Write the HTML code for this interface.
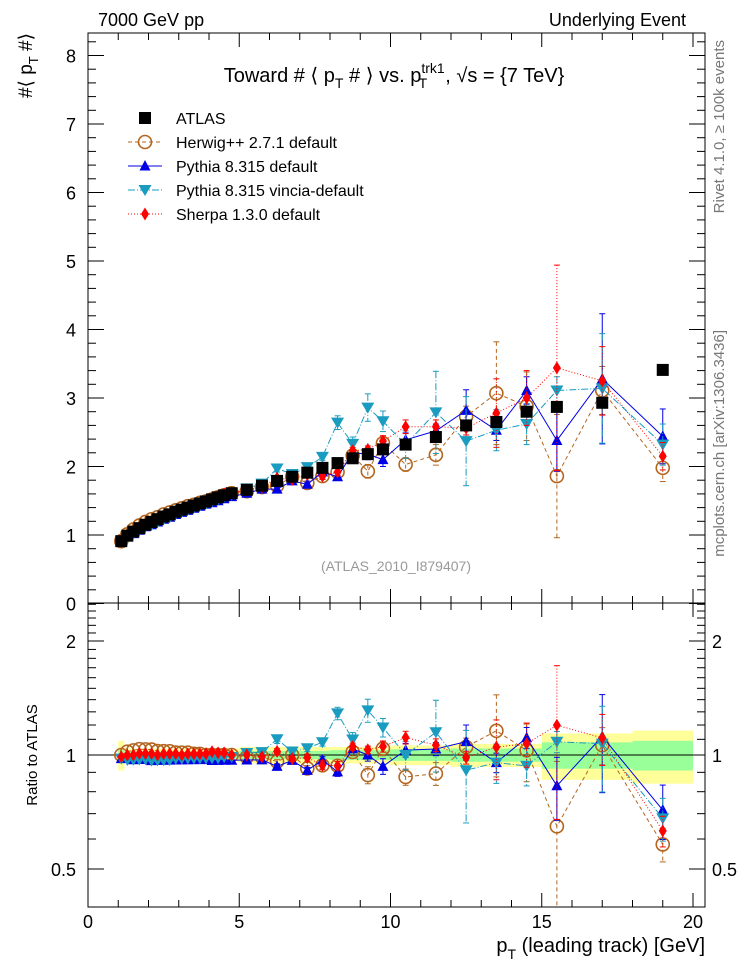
<!DOCTYPE html>
<html><head><meta charset="utf-8"><style>
body{margin:0;background:#fff;}
svg{display:block;font-family:"Liberation Sans",sans-serif;}
</style></head><body>
<svg id="c" width="746" height="972" viewBox="0 0 746 972"></svg>
<script>
const xs=[1.1,1.3,1.5,1.7,1.9,2.1,2.3,2.5,2.7,2.9,3.1,3.3,3.5,3.7,3.9,4.1,4.3,4.5,4.75,5.25,5.75,6.25,6.75,7.25,7.75,8.25,8.75,9.25,9.75,10.5,11.5,12.5,13.5,14.5,15.5,17,19];
const edges=[1.0,1.2,1.4,1.6,1.8,2.0,2.2,2.4,2.6,2.8,3.0,3.2,3.4,3.6,3.8,4.0,4.2,4.4,4.6,5.0,5.5,6.0,6.5,7.0,7.5,8.0,8.5,9.0,9.5,10,11,12,13,14,15,16,18,20];
const atlas=[0.91,0.99,1.05,1.10,1.15,1.19,1.23,1.27,1.30,1.34,1.37,1.40,1.43,1.46,1.49,1.52,1.55,1.58,1.61,1.66,1.72,1.79,1.85,1.91,1.98,2.05,2.12,2.18,2.25,2.32,2.43,2.60,2.65,2.80,2.87,2.93,3.41];
const herwig=[0.91,1.01,1.08,1.14,1.19,1.23,1.26,1.30,1.33,1.36,1.39,1.42,1.44,1.47,1.49,1.52,1.55,1.58,1.61,1.64,1.70,1.72,1.85,1.76,1.86,1.92,2.16,1.93,2.34,2.03,2.17,2.73,3.07,2.88,1.86,3.11,1.98];
const herwigErr=[0,0,0,0,0,0,0,0,0,0,0,0,0,0,0,0,0,0,0,0,0,0.02,0.03,0.03,0.04,0.05,0.05,0.1,0.1,0.1,0.15,0.15,0.75,0.5,0.9,0.35,0.2];
const pythia=[0.89,0.97,1.02,1.07,1.12,1.15,1.19,1.23,1.26,1.30,1.33,1.36,1.39,1.42,1.45,1.47,1.50,1.53,1.56,1.61,1.67,1.67,1.79,1.74,1.92,1.85,2.20,2.18,2.10,2.39,2.52,2.82,2.53,3.11,2.38,3.28,2.44];
const pythiaErr=[0,0,0,0,0,0,0,0,0,0,0,0,0,0,0,0,0,0,0,0,0,0.02,0.03,0.03,0.04,0.05,0.05,0.08,0.1,0.1,0.1,0.3,0.15,0.2,0.45,0.95,0.4];
const vincia=[0.89,0.96,1.02,1.07,1.12,1.15,1.19,1.23,1.26,1.31,1.34,1.37,1.40,1.43,1.46,1.49,1.52,1.56,1.59,1.68,1.75,1.97,1.89,1.99,2.14,2.64,2.33,2.86,2.66,2.32,2.79,2.37,2.53,2.62,3.11,3.14,2.32];
const vinciaErr=[0,0,0,0,0,0,0,0,0,0,0,0,0,0,0,0,0,0,0,0,0,0.05,0.03,0.04,0.05,0.1,0.1,0.2,0.15,0.2,0.6,0.65,0.3,0.3,0.2,0.8,0.3];
const sherpa=[0.90,0.99,1.05,1.11,1.16,1.20,1.23,1.28,1.31,1.35,1.37,1.41,1.44,1.47,1.50,1.55,1.57,1.60,1.61,1.66,1.70,1.83,1.81,1.88,1.86,1.92,2.23,2.25,2.37,2.58,2.58,2.56,2.78,3.00,3.44,3.25,2.15];
const sherpaErr=[0,0,0,0,0,0,0,0,0,0,0,0,0,0,0,0,0,0,0,0,0,0.03,0.03,0.04,0.05,0.05,0.05,0.05,0.08,0.1,0.1,0.1,0.5,0.4,1.5,0.5,0.2];
const bandY=[0.09,0.04,0.04,0.04,0.04,0.04,0.04,0.04,0.04,0.04,0.04,0.04,0.04,0.04,0.04,0.04,0.04,0.04,0.04,0.05,0.05,0.05,0.05,0.05,0.05,0.05,0.05,0.05,0.05,0.06,0.06,0.07,0.07,0.07,0.14,0.14,0.16];
const bandG=[0.03,0.02,0.02,0.02,0.02,0.02,0.02,0.02,0.02,0.02,0.02,0.02,0.02,0.02,0.02,0.02,0.02,0.02,0.02,0.025,0.025,0.025,0.025,0.025,0.025,0.03,0.03,0.03,0.03,0.035,0.035,0.04,0.04,0.04,0.08,0.08,0.09];
const xTicks=[0,5,10,15,20];
const yTicks=[0,1,2,3,4,5,6,7,8];
const rTicks=[0.5,1,2];

const NS="http://www.w3.org/2000/svg";
const svg=document.getElementById('c');
const L=88,R=705,T=33,M=603,B=907;
const X=v=>L+v*30.25;
const Y=v=>603.5-v*68.5;
const RY=r=>755-Math.log2(r)*114;
function el(tag,attrs,parent){const e=document.createElementNS(NS,tag);for(const k in attrs)e.setAttribute(k,attrs[k]);(parent||svg).appendChild(e);return e;}
function txt(s,x,y,size,attrs,parent){const e=el('text',Object.assign({x:x,y:y,'font-size':size},attrs||{}),parent);e.textContent=s;return e;}

const defs=el('defs',{});
const cp1=el('clipPath',{id:'cu'},defs);el('rect',{x:L,y:T,width:R-L,height:M-T},cp1);
const cp2=el('clipPath',{id:'cl'},defs);el('rect',{x:L,y:M,width:R-L,height:B-M},cp2);

const gBand=el('g',{'clip-path':'url(#cl)'});


for(let i=0;i<xs.length;i++){
  const x0=X(edges[i]),x1=X(edges[i+1]);
  el('rect',{x:x0,y:RY(1+bandY[i]),width:x1-x0,height:RY(1-bandY[i])-RY(1+bandY[i]),fill:'#ffff99'},gBand);
}
for(let i=0;i<xs.length;i++){
  const x0=X(edges[i]),x1=X(edges[i+1]);
  el('rect',{x:x0,y:RY(1+bandG[i]),width:x1-x0,height:RY(1-bandG[i])-RY(1+bandG[i]),fill:'#99ff99'},gBand);
}
const ref=el('line',{x1:L,x2:R,y1:RY(1),y2:RY(1),stroke:'#000','stroke-width':1});



const fu=el('rect',{x:L,y:T,width:R-L,height:M-T,fill:'none',stroke:'#000','stroke-width':1});


const fl=el('rect',{x:L,y:M,width:R-L,height:B-M,fill:'none',stroke:'#000','stroke-width':1});



const gt=el('g',{stroke:'#000','stroke-width':1});


for(let v=0;v<=20.5;v+=1){
  const x=X(v);const major=(v%5===0);const len=major?14:7;
  el('line',{x1:x,x2:x,y1:B,y2:B-len},gt);
  el('line',{x1:x,x2:x,y1:M,y2:M-len},gt);
  el('line',{x1:x,x2:x,y1:M,y2:M+len},gt);
  el('line',{x1:x,x2:x,y1:T,y2:T+len},gt);
}
for(let v=0;v<=8.3;v+=0.2){
  const y=Y(v);const major=Math.abs(v-Math.round(v))<1e-6;const len=major?16:8;
  el('line',{x1:L,x2:L+len,y1:y,y2:y},gt);
  el('line',{x1:R,x2:R-len,y1:y,y2:y},gt);
}
[0.5,0.6,0.7,0.8,0.9,1,1.1,1.2,1.3,1.4,1.5,1.6,1.7,1.8,1.9,2,2.1,2.2,2.3,2.4,2.5].forEach(r=>{
  const y=RY(r);const major=(r===0.5||r===1||r===2);const len=major?16:8;
  el('line',{x1:L,x2:L+len,y1:y,y2:y},gt);
  el('line',{x1:R,x2:R-len,y1:y,y2:y},gt);
});

xTicks.forEach(v=>{const t=txt(String(v),X(v),928,18,{'text-anchor':'middle'});

});
yTicks.forEach(v=>{const t=txt(String(v),76,Y(v)+7,18,{'text-anchor':'end'});

});
rTicks.forEach(r=>{
  const t=txt(String(r),76,RY(r)+7,18,{'text-anchor':'end'});
  
  
  const t2=txt(String(r),712,RY(r)+7,18,{'text-anchor':'start'});
  
  
});

const series=[
 {name:'herwig',vals:herwig,err:herwigErr,color:'#b4651e',dash:'4,3',marker:'circle'},
 {name:'pythia',vals:pythia,err:pythiaErr,color:'#0000e6',dash:'',marker:'tri'},
 {name:'vincia',vals:vincia,err:vinciaErr,color:'#1a9bc0',dash:'7,2,1,2',marker:'dtri'},
 {name:'sherpa',vals:sherpa,err:sherpaErr,color:'#ff0000',dash:'1,2',marker:'diamond'}
];
function marker(type,x,y,color,g){
  if(type==='circle')return el('circle',{cx:x,cy:y,r:6.5,fill:'none',stroke:color,'stroke-width':1.6},g);
  if(type==='tri')return el('polygon',{points:`${x},${y-6} ${x-5.5},${y+4.5} ${x+5.5},${y+4.5}`,fill:color},g);
  if(type==='dtri')return el('polygon',{points:`${x},${y+6} ${x-6.5},${y-5} ${x+6.5},${y-5}`,fill:color},g);
  if(type==='diamond')return el('polygon',{points:`${x},${y-6.5} ${x-4},${y} ${x},${y+6.5} ${x+4},${y}`,fill:color},g);
  if(type==='square')return el('rect',{x:x-6,y:y-6,width:12,height:12,fill:color},g);
}
series.forEach(s=>{
  ['u','l'].forEach(p=>{
    const g=el('g',{'clip-path':p==='u'?'url(#cu)':'url(#cl)'});
    
    
    const yf=(i)=>p==='u'?Y(s.vals[i]):RY(s.vals[i]/atlas[i]);
    const yfe=(i,d)=>p==='u'?Y(s.vals[i]+d*s.err[i]):RY((s.vals[i]+d*s.err[i])/atlas[i]);
    let d='';xs.forEach((x,i)=>{d+=(i?'L':'M')+X(x)+','+yf(i);});
    el('path',{d:d,fill:'none',stroke:s.color,'stroke-width':1,'stroke-dasharray':s.dash},g);
    xs.forEach((x,i)=>{
      if(s.err[i]>0){
        const lo=Math.max(0.01,s.vals[i]-s.err[i]);
        const y1=yfe(i,1),y2=p==='u'?Y(lo):RY(lo/atlas[i]);
        el('line',{x1:X(x),x2:X(x),y1:y1,y2:y2,stroke:s.color,'stroke-width':1,'stroke-dasharray':s.dash},g);
        el('line',{x1:X(x)-3,x2:X(x)+3,y1:y1,y2:y1,stroke:s.color},g);
        el('line',{x1:X(x)-3,x2:X(x)+3,y1:y2,y2:y2,stroke:s.color},g);
      }
      const m=marker(s.marker,X(x),yf(i),s.color,g);
      
      
    });
  });
});
const ga=el('g',{'clip-path':'url(#cu)'});


xs.forEach((x,i)=>{const m=marker('square',X(x),Y(atlas[i]),'#000',ga);

});

const leg=[['ATLAS','#000','','square'],['Herwig++ 2.7.1 default','#b4651e','4,3','circle'],['Pythia 8.315 default','#0000e6','','tri'],['Pythia 8.315 vincia-default','#1a9bc0','7,2,1,2','dtri'],['Sherpa 1.3.0 default','#ff0000','1,2','diamond']];
const gl=el('g',{});


leg.forEach((e,i)=>{
  const y=118+i*24;
  const ge=el('g',{},gl);
  
  
  if(i>0)el('line',{x1:128,x2:162,y1:y,y2:y,stroke:e[1],'stroke-dasharray':e[2]},ge);
  marker(e[3],145,y,e[1],ge);
  txt(e[0],176,y+6,16,{},ge);
});

function named(t,n){return t;}
named(txt('7000 GeV pp',98,26,18),'collision-label');
named(txt('Underlying Event',686,26,18,{'text-anchor':'end'}),'analysis-label');
const title=named(el('text',{x:394,y:82,'font-size':20,'text-anchor':'middle'}),'plot-title');
title.innerHTML='Toward # ⟨ p<tspan font-size="14" dy="6">T</tspan><tspan dy="-6"> # ⟩ vs. p</tspan><tspan font-size="14" dy="-9">trk1</tspan><tspan font-size="14" dx="-26" dy="15">T</tspan><tspan dx="18" dy="-6">, √s = {7 TeV}</tspan>';
const yt=named(el('text',{x:0,y:0,'font-size':19,'text-anchor':'end',transform:'translate(32,33) rotate(-90)'}),'y-axis-title');
yt.innerHTML='#⟨ p<tspan font-size="13" dy="6">T</tspan><tspan dy="-6"> #⟩</tspan>';
named(txt('Ratio to ATLAS',0,0,15,{'text-anchor':'middle',transform:'translate(37,755) rotate(-90)'}),'ratio-axis-title');
const xt=named(el('text',{x:705,y:952,'font-size':20,'text-anchor':'end'}),'x-axis-title');
xt.innerHTML='p<tspan font-size="14" dy="7">T</tspan><tspan dy="-7"> (leading track) [GeV]</tspan>';
named(txt('(ATLAS_2010_I879407)',396,571,14,{'text-anchor':'middle',fill:'#999'}),'analysis-id');
named(txt('Rivet 4.1.0, ≥ 100k events',0,0,15,{'text-anchor':'end',fill:'#777',transform:'translate(724,40) rotate(-90)'}),'rivet-label');
named(txt('mcplots.cern.ch [arXiv:1306.3436]',0,0,15,{'text-anchor':'end',fill:'#777',transform:'translate(724,330) rotate(-90)'}),'mcplots-label');
</script>
</body></html>
